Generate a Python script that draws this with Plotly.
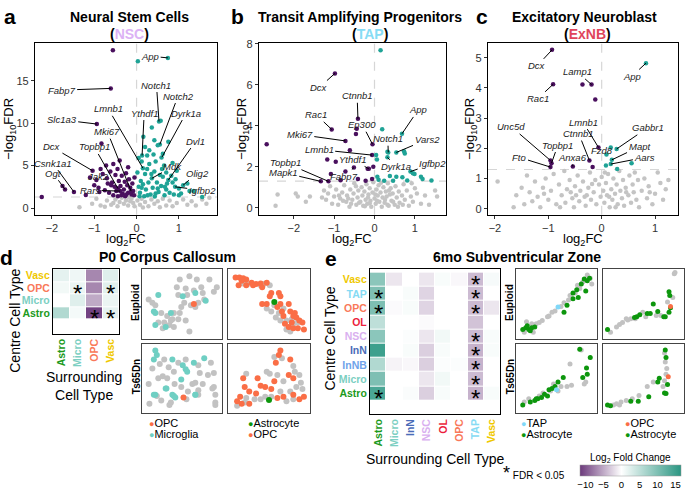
import plotly.graph_objects as go

# ======================= DATA =======================
# Panel a – NSC volcano (log2FC, -log10FDR)
a_down = [(-0.56,18.6),(-0.61,14.1),(-0.94,9.9),(-0.83,7.6),(-1.04,4.4),(-1.48,1.9),(-1.69,2.2),(-1.75,2.6),
          (-2.24,1.3),(-1.2,1.55),(-0.85,4.6),(-0.8,4.0),(-0.7,3.5),(-0.62,4.3),(-0.55,5.2),(-0.5,3.9),(-0.45,4.6),
          (-0.42,3.2),(-0.38,2.6),(-0.35,3.8),(-0.3,2.2),(-0.28,3.1),(-0.25,4.1),(-0.22,2.7),(-0.2,1.8),(-0.18,3.4),
          (-0.15,2.4),(-0.12,1.6),(-0.1,2.9),(-0.08,2.0),(-0.06,1.5),(-0.05,3.6),(-0.9,2.4),(-0.95,3.3),(-1.0,2.7),
          (-0.75,2.1),(-0.65,1.8),(-0.6,2.7),(-0.55,1.5),(-0.48,2.0),(-0.44,1.4),(-0.33,1.7),(-0.27,1.4),(-0.4,5.6),
          (-0.58,3.0),(-0.72,5.0),(-0.45,2.3),(-0.2,4.8),(-0.13,1.9),(-0.24,1.6),(-0.36,1.5),(-0.52,2.5),(-0.68,2.9),
          (-0.88,1.9),(-1.1,3.6),(-0.13,2.0),(-0.44,2.3),(-0.39,2.0)]
a_up = [(0.03,17.3),(0.74,17.7),(0.53,10.2),(0.57,10.3),(0.36,9.5),(0.75,7.8),(0.42,8.0),(0.5,7.4),(0.55,7.5),
        (0.16,8.4),(0.25,6.2),(0.59,5.95),(0.13,6.2),(0.15,4.7),(0.36,3.5),(0.75,3.3),(0.91,2.5),(1.1,2.7),
        (1.55,1.3),(1.25,2.0),(1.0,2.3),(0.85,3.0),(0.7,4.2),(0.65,5.0),(0.45,5.5),(0.3,5.2),(0.2,4.0),(0.1,3.2),
        (0.05,2.5),(0.08,1.8),(0.12,5.5),(0.05,5.9),(0.22,2.2),(0.28,3.0),(0.33,1.6),(0.38,2.4),(0.42,4.3),
        (0.48,3.0),(0.52,1.9),(0.58,2.6),(0.62,3.7),(0.66,1.5),(0.7,2.2),(0.78,1.8),(0.82,3.8),(0.88,1.6),
        (0.95,4.4),(1.05,1.7),(1.2,2.9),(1.35,2.0),(0.18,1.4),(0.25,4.6),(0.35,4.0),(0.45,1.7),(0.55,3.9),
        (0.6,4.6),(0.72,2.9),(0.92,3.4),(0.15,2.8),(0.02,4.2),(0.3,6.8),(0.4,6.3),(0.2,7.2),(0.62,6.4),
        (0.85,5.3),(0.07,1.4),(0.5,2.3),(0.43,1.35),(0.67,2.5),(1.0,1.5),(0.26,1.5),(0.12,2.4)]
a_ns = [(-1.35,0.1),(-1.05,0.5),(-0.95,1.1),(-0.85,0.3),(-0.7,0.9),(-0.6,0.4),(-0.5,1.0),(-0.45,0.2),(-0.4,0.7),
        (-0.35,1.2),(-0.3,0.5),(-0.25,0.9),(-0.2,0.3),(-0.15,0.8),(-0.12,1.1),(-0.08,0.6),(-0.05,0.2),(0.02,0.9),
        (0.08,0.4),(0.12,1.1),(0.2,0.7),(0.28,0.2),(0.35,1.0),(0.42,0.5),(0.5,0.8),(0.55,0.1),(0.62,1.1),(0.7,0.3),
        (0.78,0.9),(0.85,0.2),(0.95,0.6),(1.1,1.0),(1.2,0.4),(1.3,0.8),(1.4,0.3),(1.55,1.0),(1.65,0.5),(1.72,1.2),
        (-0.55,0.6),(-0.75,0.15),(0.15,0.05),(-0.18,1.25)]
a_genes = ["App","Fabp7","Slc1a3","Notch1","Notch2","Dyrk1a","Lmnb1","Ythdf1","Mki67","Topbp1","Dcx",
           "Csnk1a1","Ogt","Rars","Mdk","Dvl1","Olig2","Igfbp2"]
a_gene_pts = [(0.74,17.7),(-0.61,14.1),(-0.94,9.9),(0.53,10.2),(0.55,7.5),(0.6,6.0),(0.15,4.7),(0.13,6.2),
              (-0.13,2.0),(-0.44,2.3),(-1.04,4.4),(-1.48,1.9),(-1.69,2.2),(-0.39,2.0),(0.36,3.5),(0.75,3.3),
              (1.1,2.7),(0.91,2.5)]
a_free_genes = [("Jak2",-0.91,3.7)]

# Panel b – TAP volcano
b_down = [(-0.98,6.55),(-0.41,4.34),(-1.06,3.82),(-0.05,3.1),(-0.44,3.85),(-0.46,3.6),(-0.72,3.26),(-0.06,2.57),
          (-0.61,2.81),(-0.14,1.9),(-1.14,1.29),(-1.33,1.29),(-0.51,1.96),(-2.67,3.1),(-1.17,2.36),(-0.96,2.24),
          (-1.08,1.65),(-0.72,1.77),(-0.41,1.4),(-0.22,1.32),(-0.06,1.4),(-0.03,2.0),(-0.17,1.9),(-0.84,1.34)]
b_up = [(0.15,7.68),(0.68,3.61),(0.19,3.83),(0.34,2.7),(0.54,2.7),(0.32,2.46),(0.89,1.77),(0.04,2.57),(0.06,2.36),
        (0.32,2.73),(0.73,2.76),(0.75,2.65),(0.54,1.52),(0.69,1.49),(0.95,1.68),(0.99,1.65),(1.15,1.52),(1.41,1.33),
        (0.1,1.37),(0.24,1.32),(0.38,1.55),(0.07,1.52),(0.46,1.32),(0.81,1.33),(1.19,1.4)]
b_ns = [(-2.45,0.1),(-2.4,0.65),(-1.95,0.7),(-1.9,0.55),(-1.7,0.3),(-1.6,0.55),(-1.25,0.85),(-1.2,0.4),(-1.15,0.7),
        (-1.1,1.05),(-1.05,0.2),(-1.0,0.55),(-0.95,0.9),(-0.9,0.15),(-0.85,0.45),(-0.8,0.75),(-0.75,1.1),(-0.7,0.3),
        (-0.68,0.6),(-0.62,0.05),(-0.6,0.9),(-0.55,0.4),(-0.52,0.7),(-0.5,1.2),(-0.45,0.15),(-0.42,0.5),(-0.4,0.85),
        (-0.35,0.3),(-0.32,1.0),(-0.3,0.6),(-0.28,0.1),(-0.25,0.8),(-0.22,0.4),(-0.2,1.15),(-0.18,0.2),(-0.15,0.65),
        (-0.12,0.95),(-0.1,0.35),(-0.08,0.05),(-0.05,0.75),(-0.03,1.25),(0.0,0.45),(0.03,0.2),(0.05,0.9),(0.08,0.6),
        (0.1,1.1),(0.12,0.3),(0.15,0.75),(0.18,0.05),(0.2,0.5),(0.22,1.0),(0.25,0.25),(0.28,0.8),(0.3,0.55),
        (0.33,1.2),(0.35,0.1),(0.38,0.65),(0.4,0.95),(0.42,0.35),(0.45,0.7),(0.5,0.15),(0.52,1.05),(0.55,0.5),
        (0.6,0.8),(0.62,0.25),(0.68,0.6),(0.72,1.15),(0.75,0.4),(0.8,0.85),(0.85,0.1),(0.9,0.55),(0.95,0.3),
        (1.0,0.95),(1.05,0.7),(1.15,0.2),(1.25,0.6),(1.35,0.15),(1.5,0.85),(1.55,0.55),(-0.65,0.45),(-0.38,0.25),
        (-0.16,0.5),(0.06,0.35),(0.26,0.4),(0.46,0.3),(-0.58,0.2),(-0.88,0.6),(0.16,1.22),(-0.24,0.08),(0.36,0.85),
        (-0.46,1.05),(0.58,0.05),(0.92,1.2),(-1.3,0.5),(0.7,0.15),(0.02,0.65),(-0.12,0.22),(0.32,0.15),(-0.78,0.35)]
b_genes = ["Dcx","Ctnnb1","Rac1","Ep300","Mki67","App","Notch1","Vars2","Lmnb1","Ythdf1","Dyrk1a","Igfbp2",
           "Topbp1","Mapk1","Fabp7"]
b_gene_pts = [(-0.98,6.55),(-0.41,4.34),(-1.06,3.82),(-0.05,3.1),(-0.72,3.26),(0.68,3.61),(0.34,2.7),(0.54,2.7),
              (-0.06,2.57),(-0.14,1.9),(0.32,2.46),(0.89,1.77),(-1.14,1.29),(-1.33,1.29),(-0.51,1.96)]

# Panel c – ExNB volcano
c_down = [(-0.93,5.26),(-0.19,4.11),(-0.36,4.11),(-0.91,4.12),(-0.12,3.62),(-0.96,1.6),(-0.94,1.51),(-0.96,1.38),
          (-0.06,2.03),(-0.23,1.6),(-0.54,1.4),(-0.17,1.38)]
c_up = [(0.83,4.82),(0.28,1.98),(0.19,1.62),(0.17,1.48),(0.17,2.03),(0.09,1.8),(0.08,1.43),(0.29,1.32),(0.56,1.51)]
c_ns = [(-1.95,0.9),(-1.65,0.05),(-1.6,0.45),(-1.5,0.7),(-1.45,0.15),(-1.4,1.1),(-1.35,0.55),(-1.3,0.25),(-1.25,0.9),
        (-1.2,0.4),(-1.15,0.05),(-1.1,0.7),(-1.05,1.0),(-1.0,0.3),(-0.95,0.6),(-0.9,1.15),(-0.85,0.15),(-0.8,0.8),
        (-0.75,0.45),(-0.7,1.25),(-0.68,0.2),(-0.65,0.65),(-0.6,0.95),(-0.55,0.35),(-0.52,0.05),(-0.5,0.75),
        (-0.45,1.1),(-0.42,0.25),(-0.4,0.6),(-0.35,0.9),(-0.32,0.4),(-0.3,0.1),(-0.25,0.7),(-0.22,1.2),(-0.2,0.3),
        (-0.15,0.55),(-0.12,0.95),(-0.1,0.15),(-0.05,0.8),(-0.02,0.4),(0.0,1.05),(0.03,0.6),(0.05,0.2),(0.08,0.85),
        (0.1,0.45),(0.12,1.15),(0.15,0.05),(0.18,0.65),(0.2,0.3),(0.22,1.0),(0.25,0.5),(0.28,0.8),(0.3,0.15),
        (0.33,1.25),(0.35,0.6),(0.38,0.35),(0.4,0.95),(0.42,0.1),(0.45,0.7),(0.5,0.45),(0.52,1.1),(0.55,0.2),
        (0.58,0.8),(0.6,0.55),(0.65,0.3),(0.68,0.95),(0.7,0.05),(0.75,0.6),(0.8,1.0),(0.85,0.35),(0.88,0.75),
        (0.95,0.15),(1.0,0.5),(1.05,1.2),(1.1,0.85),(1.15,0.3),(1.2,0.65),(1.25,0.95),(-0.58,0.55),(-0.28,0.45),
        (0.14,0.4),(0.46,0.55),(-0.78,0.05),(0.62,1.2),(-1.08,0.5),(0.26,0.05),(-0.18,0.82),(0.9,0.55),
        (-0.48,0.45),(0.06,1.2)]
c_genes = ["Dcx","App","Lamp1","Rac1","Unc5d","Topbp1","Fto","Lmnb1","Ctnnb1","Anxa6","Gabbr1","Mapt","Aars"]
c_gene_pts = [(-0.93,5.26),(0.83,4.82),(-0.19,4.11),(-0.91,4.12),(-0.96,1.6),(-0.94,1.51),(-0.96,1.38),
              (-0.06,2.03),(-0.23,1.6),(-0.54,1.4),(0.28,1.98),(0.19,1.62),(0.17,1.48)]
c_free_genes = [("Fzd8",0.01,1.94)]

# Panel d – P0 corpus callosum neighbourhood log2 fold change
d_cells = ["Astro","Micro","OPC","Vasc"]
d_lfc = [[6, 0.8, -11, 2],      # Astro
         [0, 2.5, -5, 1.5],     # Micro
         [1, 1.5, -7, 2.3],     # OPC
         [2, 1.2, -7, 2.5]]     # Vasc
d_sig = [("OPC","Micro"),("OPC","Vasc"),("Astro","OPC"),("Astro","Vasc")]

# Panel e – 6mo SVZ neighbourhood log2 fold change
e_rows = ["Astro","Micro","InNB","InN","NSC","OL","OPC","TAP","Vasc"]
e_cols = ["Astro","Micro","InN","NSC","OL","OPC","TAP","Vasc"]
e_lfc = [[14, 0, 0.4, -2.8, 0.5, 0, -4.5, 0.5],
         [10, 0, 0, -1.5, 1, 0, -4, 0],
         [6, -0.7, -0.5, -2.8, 0.3, 0.3, -4.5, 0],
         [15, 0, 0.5, -2.8, 0.5, 0, -4.5, 0.5],
         [9, 0, 0.3, -1.5, 1, 0, -4, 0.5],
         [5, 0, 0, -0.3, 0, 0, -3.5, 0],
         [10, -0.3, 0.5, -2.5, 0, 0, -4, -1.5],
         [10, 0, 0.5, -2.5, 0, 0, -4, 0],
         [9, -1.5, 0, -1.5, 0.5, -0.5, -4, 0.7]]
e_sig = [("Vasc","TAP"),("TAP","Astro"),("TAP","TAP"),("OPC","Astro"),("OPC","TAP"),("NSC","TAP"),
         ("InN","TAP"),("InNB","TAP"),("Micro","TAP"),("Astro","Astro"),("Astro","TAP")]

cell_colors = {"Vasc":"#efc800","OPC":"#f9795a","Micro":"#7ccfc2","Astro":"#1c9a1c","TAP":"#86dbf4",
               "OL":"#ec1e3c","NSC":"#d9b0ef","InN":"#4a6cb8","InNB":"#6fa3ea"}

# Spatial maps (relative coordinates within each tissue section, 0-100)
d_eu1_other = [(47,88),(60,93),(70,88),(87,88),(97,76),(43,76),(55,74),(66,71),(76,76),(10,52),(22,36),(30,31),
               (39,36),(18,21),(26,21),(37,26),(45,26),(55,24),(33,17),(39,14),(24,12),(60,7),(47,36),(62,48),
               (72,52),(53,52),(68,45),(80,57),(5,57),(14,48),(57,64),(49,45),(45,64),(35,24),(93,69),(78,67)]
d_eu1_micro = [(18,64),(12,38),(14,36),(51,62),(68,67),(82,55),(35,36),(14,17),(28,14)]
d_eu1_opc = [(66,50)]
d_eu2_other = [(22,81),(16,82),(43,81),(51,79),(47,43),(57,48),(59,29),(65,24),(73,24),(80,26),(82,19),(73,10),
               (78,7),(88,21),(53,38),(69,43),(39,79),(63,36)]
d_eu2_opc = [(6,91),(11,91),(16,90),(20,88),(14,86),(27,83),(33,81),(39,82),(10,79),(20,79),(29,79),(41,76),
             (47,83),(53,67),(63,67),(65,62),(51,62),(41,50),(47,50),(65,50),(76,50),(67,38),(78,38),(84,36),
             (69,31),(82,31),(90,24),(94,21),(76,14),(82,12),(88,12),(96,10),(71,19),(86,29),(80,21),(61,45)]
d_eu2_astro = [(57,53)]
d_ts1_other = [(10,65),(20,72),(26,79),(32,67),(18,50),(24,53),(30,50),(39,60),(45,74),(55,79),(72,70),(74,58),
               (89,74),(93,58),(85,55),(78,41),(64,41),(49,36),(40,41),(58,29),(72,31),(93,36),(5,41),(6,10),
               (22,15),(35,12),(33,8),(56,17),(72,24),(95,24),(95,12),(95,8),(16,22),(68,43),(91,34)]
d_ts1_micro = [(14,93),(12,79),(16,86),(37,79),(51,70),(55,64),(57,60),(49,48),(66,74),(80,81),(28,34),(14,24),
               (39,22),(68,24),(12,24),(29,34),(37,24),(41,20),(68,24)]
d_ts1_opc = [(52,20)]
d_ts2_other = [(57,83),(67,81),(82,69),(84,60),(69,45),(61,55),(51,57),(90,55),(92,43),(86,36),(78,29),(65,29),
               (53,21),(45,21),(39,17),(31,17),(20,19),(18,12),(8,7),(73,14),(82,17),(94,33),(20,57),(47,60)]
d_ts2_opc = [(65,93),(63,86),(59,74),(78,79),(76,55),(16,50),(35,50),(18,36),(24,29),(33,26),(45,36),(53,33),
             (69,21),(82,24),(90,17),(96,21),(12,21),(8,14),(14,10),(24,10),(61,19),(57,45),(39,38),(82,50)]
d_ts2_astro = [(50,16)]

e_eu1_other = [(7,6),(23,19),(27,21),(38,30),(44,37),(48,39),(56,46),(60,52),(68,63),(75,67),(81,74),(85,84),
               (91,95),(95,90),(97,81),(31,24),(40,31),(66,56),(78,79),(10,22),(19,6),(17,19)]
e_eu1_astro = [(5,10),(9,13),(13,10),(17,13),(15,8),(21,14),(11,16),(72,58),(79,60),(72,67),(89,70),(87,89),
               (91,86),(94,90),(83,81),(77,72),(60,37),(64,48)]
e_eu1_tap = [(52,45)]
e_eu2_other = [(6,6),(14,14),(22,21),(29,25),(33,27),(39,27),(49,37),(53,30),(67,32),(73,32),(82,53),(89,60),
               (91,97),(92,99),(27,27),(18,18)]
e_eu2_astro = [(2,10),(41,30),(45,33),(55,35),(63,50),(69,38),(77,30),(79,30),(84,37),(85,63),(84,69),(86,44),
               (59,35),(38,29)]
e_eu2_opc = [(86,46)]
e_ts1_other = [(7,13),(13,18),(27,22),(56,37),(64,37),(70,39),(68,72),(89,44),(87,41),(83,94),(32,27),(42,30),
               (52,30),(46,41)]
e_ts1_astro = [(5,8),(15,13),(21,15),(25,18),(30,20),(34,25),(40,32),(44,34),(48,37),(52,44),(59,51),(91,56),
               (90,66),(95,82),(85,51),(23,18),(38,22),(81,95)]
e_ts1_tap = [(50,32)]
e_ts2_other = [(10,8),(14,10),(20,13),(27,15),(35,18),(44,23),(55,37),(63,44),(78,89),(79,75),(81,65),(80,56),
               (78,46),(18,8),(76,37)]
e_ts2_astro = [(2,8),(6,7),(33,14),(43,14),(57,21),(69,44),(71,50),(82,40),(78,27),(80,26),(79,94),(80,82)]
e_ts2_opc = [(83,52)]

# ======================= STYLE / LAYOUT =======================
W, H = 685, 489
FONT = "Liberation Sans, Arial, sans-serif"
PURPLE, TEALC, GREYC = "#4a105e", "#1fa396", "#c4c4c4"
SP_GREY, SP_MICRO, SP_OPC, SP_ASTRO, SP_TAP = "#c2c2c2", "#6fcfc3", "#fa6e46", "#0d960d", "#80d8f8"

def xd(l, r): return [l / W, r / W]
def yd(t, b): return [1 - b / H, 1 - t / H]
def PX(x): return x / W
def PY(y): return 1 - y / H

fig = go.Figure()
axes = {}
annotations = []
shapes = []

def ax_names(n):
    s = "" if n == 1 else str(n)
    return "x" + s, "y" + s, "xaxis" + s, "yaxis" + s

def pts(lst):
    return [p[0] for p in lst], [p[1] for p in lst]

# ---- volcano panels ----
volc = [
    (1, xd(35, 217), [-2.4, 1.9], [-0.8, 19.5], [0, 5, 10, 15], a_down, a_up, a_ns),
    (2, xd(259, 446), [-2.86, 1.77], [-0.34, 8.05], [0, 2, 4, 6, 8], b_down, b_up, b_ns),
    (3, xd(488, 678), [-2.13, 1.43], [-0.2, 5.5], [0, 1, 2, 3, 4, 5], c_down, c_up, c_ns),
]
for n, xdom, xr, yr, yt, dn, up, ns in volc:
    xn, yn, xk, yk = ax_names(n)
    base = dict(showline=True, mirror=True, linecolor="black", linewidth=1.2, showgrid=False, zeroline=False,
                ticks="outside", ticklen=3, tickcolor="#333", tickfont=dict(size=11, color="#333", family=FONT))
    axes[xk] = dict(base, domain=xdom, range=xr, tickvals=[-2, -1, 0, 1], anchor=yn)
    axes[yk] = dict(base, domain=yd(38, 212), range=yr, tickvals=yt, anchor=xn)
    for lst, col in ((ns, GREYC), (dn, PURPLE), (up, TEALC)):
        x, y = pts(lst)
        fig.add_trace(go.Scatter(x=x, y=y, mode="markers", xaxis=xn, yaxis=yn, showlegend=False,
                                 marker=dict(color=col, size=4.5, line=dict(width=0))))
    shapes.append(dict(type="line", xref=xn, yref=yn + " domain", x0=0, x1=0, y0=0, y1=1, layer="below",
                       line=dict(color="#d6d6d6", width=1.2, dash="dash")))
    shapes.append(dict(type="line", xref=xn + " domain", yref=yn, x0=0, x1=1, y0=1.301, y1=1.301, layer="below",
                       line=dict(color="#d6d6d6", width=1.2, dash="dash")))

# label positions (text anchor locations in data units)
a_label_pos = [(0.32,17.9),(-1.77,13.9),(-1.77,10.4),(0.47,14.5),(0.98,13.2),(1.17,11.2),(-0.67,11.7),
               (0.18,11.2),(-0.69,9.0),(-1.0,7.2),(-2.0,7.2),(-1.98,5.3),(-1.97,4.1),(-1.1,2.1),(0.86,4.9),
               (1.4,7.9),(1.43,4.1),(1.55,2.1)]
b_label_pos = [(-1.37,5.86),(-0.43,5.46),(-1.44,4.53),(-0.3,4.05),(-1.85,3.57),(1.08,4.77),(0.33,3.37),
               (1.3,3.33),(-1.37,2.84),(-0.55,2.36),(0.54,2.0),(1.44,2.14),(-2.21,2.2),(-2.26,1.72),(-0.76,1.53)]
c_label_pos = [(-1.21,4.73),(0.56,4.38),(-0.46,4.53),(-1.2,3.64),(-1.69,2.71),(-0.82,2.11),(-1.54,1.7),
               (-0.35,2.87),(-0.43,2.49),(-0.55,1.7),(0.86,2.68),(0.7,2.05),(0.81,1.7)]
for n, genes, gpts, lpos, free in ((1, a_genes, a_gene_pts, a_label_pos, a_free_genes),
                                   (2, b_genes, b_gene_pts, b_label_pos, []),
                                   (3, c_genes, c_gene_pts, c_label_pos, c_free_genes)):
    xn, yn, _, _ = ax_names(n)
    for g, (x, y), (lx, ly) in zip(genes, gpts, lpos):
        annotations.append(dict(x=x, y=y, ax=lx, ay=ly, xref=xn, yref=yn, axref=xn, ayref=yn, text="<i>%s</i>" % g,
                                showarrow=True, arrowhead=0, arrowwidth=1, arrowcolor="black", standoff=0,
                                xanchor="center", yanchor="middle",
                                font=dict(size=9.5, color="#222", family=FONT)))
    for g, lx, ly in free:
        annotations.append(dict(x=lx, y=ly, xref=xn, yref=yn, text="<i>%s</i>" % g, showarrow=False,
                                xanchor="center", yanchor="middle",
                                font=dict(size=9.5, color="#222", family=FONT)))

# ---- heatmaps ----
def lab(n):
    return "<b><span style='color:%s'>%s</span></b>" % (cell_colors[n], n)

for n, xdom, ydom, cols, rows, z, sig in ((4, xd(53, 119), yd(267, 332), d_cells, d_cells, d_lfc, d_sig),
                                          (5, xd(370, 500), yd(267, 413), e_cols, e_rows, e_lfc, e_sig)):
    xn, yn, xk, yk = ax_names(n)
    fig.add_trace(go.Heatmap(z=z, x=cols, y=rows, coloraxis="coloraxis", xgap=1, ygap=1, xaxis=xn, yaxis=yn))
    hb = dict(showline=True, mirror=True, linecolor="black", linewidth=1.2, showgrid=False, zeroline=False,
              ticks="", tickfont=dict(size=10.5, family=FONT))
    axes[xk] = dict(hb, domain=xdom, anchor=yn, tickangle=-90, tickvals=cols, ticktext=[lab(c) for c in cols])
    axes[yk] = dict(hb, domain=ydom, anchor=xn, tickvals=rows, ticktext=[lab(r) for r in rows])
    for r, c in sig:
        annotations.append(dict(x=c, y=r, xref=xn, yref=yn, text="*", showarrow=False, yshift=-5,
                                font=dict(size=24, color="black", family=FONT)))

# ---- spatial maps ----
sp_panels = [
    (6, xd(142, 222), yd(267, 337), [(d_eu1_other, SP_GREY), (d_eu1_micro, SP_MICRO), (d_eu1_opc, SP_OPC)], 6),
    (7, xd(228, 310), yd(267, 337), [(d_eu2_other, SP_GREY), (d_eu2_opc, SP_OPC), (d_eu2_astro, SP_ASTRO)], 6),
    (8, xd(142, 222), yd(342, 412), [(d_ts1_other, SP_GREY), (d_ts1_micro, SP_MICRO), (d_ts1_opc, SP_OPC)], 6),
    (9, xd(228, 310), yd(342, 412), [(d_ts2_other, SP_GREY), (d_ts2_opc, SP_OPC), (d_ts2_astro, SP_ASTRO)], 6),
    (10, xd(516, 597), yd(267, 337), [(e_eu1_other, SP_GREY), (e_eu1_astro, SP_ASTRO), (e_eu1_tap, SP_TAP)], 5),
    (11, xd(603, 684), yd(267, 337), [(e_eu2_other, SP_GREY), (e_eu2_astro, SP_ASTRO), (e_eu2_opc, SP_OPC)], 5),
    (12, xd(516, 597), yd(342, 412), [(e_ts1_other, SP_GREY), (e_ts1_astro, SP_ASTRO), (e_ts1_tap, SP_TAP)], 5),
    (13, xd(603, 684), yd(342, 412), [(e_ts2_other, SP_GREY), (e_ts2_astro, SP_ASTRO), (e_ts2_opc, SP_OPC)], 5),
]
for n, xdom, ydom, groups, msize in sp_panels:
    xn, yn, xk, yk = ax_names(n)
    sb = dict(showline=True, mirror=True, linecolor="#444", linewidth=1.2, showgrid=False, zeroline=False,
              showticklabels=False, ticks="", range=[-4, 104])
    axes[xk] = dict(sb, domain=xdom, anchor=yn)
    axes[yk] = dict(sb, domain=ydom, anchor=xn)
    for lst, col in groups:
        x, y = pts(lst)
        fig.add_trace(go.Scatter(x=x, y=y, mode="markers", xaxis=xn, yaxis=yn, showlegend=False,
                                 marker=dict(color=col, size=msize, line=dict(width=0))))

# ---- text annotations ----
def txt(x, y, s, size=11, bold=False, color="black", angle=0, xanchor="center"):
    annotations.append(dict(x=PX(x), y=PY(y), xref="paper", yref="paper", text=("<b>%s</b>" % s) if bold else s,
                            showarrow=False, textangle=angle, xanchor=xanchor, yanchor="middle",
                            font=dict(size=size, color=color, family=FONT)))

for letter, x, y in (("a", 10, 12), ("b", 237, 12), ("c", 482, 12), ("d", 6, 255), ("e", 331, 256)):
    txt(x, y, letter, size=21, bold=True)
txt(129, 12, "Neural Stem Cells", 14, True)
txt(129, 29, "(<span style='color:#dcb2f5'>NSC</span>)", 14, True)
txt(360, 12, "Transit Amplifying Progenitors", 14, True)
txt(370, 29, "(<span style='color:#86dcf5'>TAP</span>)", 14, True)
txt(584, 12, "Excitatory Neuroblast", 14, True)
txt(587, 29, "(<span style='color:#e0455c'>ExNB</span>)", 14, True)
for ylx, cx in ((10, 126), (243, 352), (471, 583)):
    txt(ylx, 125, "\u2212log<sub>10</sub>FDR", 13, angle=-90)
    txt(cx, 237, "log<sub>2</sub>FC", 13)
txt(167, 255, "P0 Corpus Callosum", 14, True)
txt(517, 255, "6mo Subventricular Zone", 14, True)
txt(15, 319, "Centre Cell Type", 14, angle=-90)
txt(84, 385, "Surrounding<br>Cell Type", 14)
txt(330, 337, "Centre Cell Type", 14, angle=-90)
txt(435, 459, "Surrounding Cell Type", 14)
for x in (136, 510):
    txt(x, 301, "Euploid", 10, True, angle=-90)
    txt(x, 376, "Ts65Dn", 10, True, angle=-90)

def dot(c):
    return "<span style='color:%s;font-size:9px'>\u25CF</span>" % c
for x, y, c, s in ((147, 422, SP_OPC, "OPC"), (147, 433, SP_MICRO, "Microglia"),
                   (246, 422, SP_ASTRO, "Astrocyte"), (246, 433, SP_OPC, "OPC"),
                   (519, 422, SP_TAP, "TAP"), (519, 433, SP_ASTRO, "Astrocyte"),
                   (623, 422, SP_OPC, "OPC"), (623, 433, SP_ASTRO, "Astrocyte")):
    txt(x, y, dot(c) + s, 11, xanchor="left")
txt(501, 473, "<span style='font-size:18px'>*</span> <span style='font-size:10px'>FDR &lt; 0.05</span>", 10,
    xanchor="left")
txt(630, 458, "Log<sub>2</sub> Fold Change", 10)

fig.update_layout(
    width=W, height=H, margin=dict(l=0, r=0, t=0, b=0), paper_bgcolor="white", plot_bgcolor="white",
    font=dict(family=FONT, color="black"), showlegend=False,
    coloraxis=dict(cmin=-11.5, cmax=16.5,
                   colorscale=[[0, "#6c3a7c"], [0.41, "#ffffff"], [1, "#2a9682"]],
                   colorbar=dict(orientation="h", x=PX(630.5), xanchor="center", y=PY(465), yanchor="top",
                                 len=101 / W, lenmode="fraction", thickness=11, xpad=0, ypad=0,
                                 tickvals=[-10, -5, 0, 5, 10, 15], ticks="", outlinewidth=0.5,
                                 outlinecolor="#999", tickfont=dict(size=9.5, family=FONT))),
    annotations=annotations, shapes=shapes, **axes)

fig.write_html("out.html", config={"displayModeBar": False},
               post_script="document.body.style.margin='0';document.body.style.overflow='hidden';")
